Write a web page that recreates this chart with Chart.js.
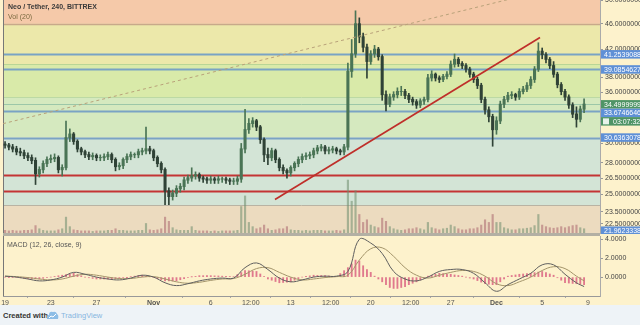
<!DOCTYPE html>
<html><head><meta charset="utf-8">
<script src="https://cdn.jsdelivr.net/npm/chart.js@4/dist/chart.umd.min.js"></script>
<style>
html,body{margin:0;padding:0;width:640px;height:325px;overflow:hidden;background:#fdf2cc;font-family:"Liberation Sans",Arial,sans-serif}
canvas{position:absolute;left:0}
#main{top:0}
#macd{top:234px}
#sep{position:absolute;left:3px;top:233px;width:597px;height:3px;background:#b3b0a4}
#footer{position:absolute;left:0;top:305px;width:640px;height:20px;background:#eef3f7}
.t{position:absolute;white-space:nowrap}
</style></head>
<body>
<canvas id="main" width="640" height="234"></canvas>
<canvas id="macd" width="640" height="71"></canvas>
<div id="sep"></div>
<div class="t" style="left:8px;top:3px;font-size:7px;font-weight:bold;color:#3a3a3a">Neo / Tether, 240, BITTREX</div>
<div class="t" style="left:8px;top:13px;font-size:7px;color:#7a6a40">Vol (20)</div>
<div class="t" style="left:7px;top:241px;font-size:7px;color:#555">MACD (12, 26, close, 9)</div>
<div id="footer">
  <div class="t" style="left:3px;top:6px;font-size:7.5px;font-weight:bold;color:#333">Created with</div>
  <svg style="position:absolute;left:46px;top:5px" width="13" height="10" viewBox="0 0 13 10"><path d="M1 9 Q0 5 3 5 Q3 1 7 2 Q10 1 11 4 Q13 5 12 9 Z" fill="#8dbde6"/><path d="M3 8 L5 6 L7 7 L10 4" stroke="#fff" stroke-width="1" fill="none"/></svg>
  <div class="t" style="left:61px;top:6px;font-size:7.5px;color:#86b6df">TradingView</div>
</div>
<script>
// ---- candles (8h aggregation), days since Oct 19 ----
const candleStep = 1/3;
const opens = [29.9,29.8,29.6,29.4,29.1,29.0,28.7,28.5,28.2,26.9, 27.3,27.9,28.3,28.4,28.5,27.3,27.5,30.6,31.0,30.2, 29.4,29.1,28.8,28.6,28.7,28.5,28.5,28.6,28.8,28.3, 27.6,27.7,28.3,28.6,28.8,28.8,29.1,29.2,29.4,29.2, 28.5,27.9,27.3,25.3,24.8,25.1,25.5,25.7,26.3,26.5, 26.7,26.8,26.5,26.4,26.3,26.4,26.3,26.4,26.4,26.3, 26.2,26.2,26.4,29.4,31.5,32.2,32.5,31.8,30.4,28.8, 28.5,29.2,28.3,27.5,27.2,27.0,27.5,27.9,28.3,28.6, 28.7,28.8,29.2,29.5,29.6,29.2,29.3,29.4,29.2,29.1, 29.6,38.8,41.3,46.0,43.9,42.3,40.2,41.3,42.0,40.9, 35.7,34.5,35.4,35.7,36.1,36.1,35.6,35.1,34.8,34.4, 34.9,35.1,37.9,38.4,37.9,37.7,38.1,38.4,39.8,40.5, 39.9,39.6,39.1,38.4,37.7,36.9,35.1,33.8,33.0,31.5, 32.5,34.5,35.1,35.6,35.7,35.4,36.1,36.4,36.9,37.7, 39.1,41.7,41.2,40.5,39.6,38.4,37.0,36.1,35.4,34.4, 33.3,32.7,33.9];
const closes = [29.8,29.6,29.4,29.1,29.0,28.7,28.5,28.2,26.9,27.3, 27.9,28.3,28.4,28.5,27.3,27.5,30.6,31.0,30.2,29.4, 29.1,28.8,28.6,28.7,28.5,28.5,28.6,28.8,28.3,27.6, 27.7,28.3,28.6,28.8,28.8,29.1,29.2,29.4,29.2,28.5, 27.9,27.3,25.3,24.8,25.1,25.5,25.7,26.3,26.5,26.7, 26.8,26.5,26.4,26.3,26.4,26.3,26.4,26.4,26.3,26.2, 26.2,26.4,29.4,31.5,32.2,32.5,31.8,30.4,28.8,28.5, 29.2,28.3,27.5,27.2,27.0,27.5,27.9,28.3,28.6,28.7, 28.8,29.2,29.5,29.6,29.2,29.3,29.4,29.2,29.1,29.6, 38.8,41.3,46.0,43.9,42.3,40.2,41.3,42.0,40.9,35.7, 34.5,35.4,35.7,36.1,36.1,35.6,35.1,34.8,34.4,34.9, 35.1,37.9,38.4,37.9,37.7,38.1,38.4,39.8,40.5,39.9, 39.6,39.1,38.4,37.7,36.9,35.1,33.8,33.0,31.5,32.5, 34.5,35.1,35.6,35.7,35.4,36.1,36.4,36.9,37.7,39.1, 41.7,41.2,40.5,39.6,38.4,37.0,36.1,35.4,34.4,33.3, 32.7,33.9,34.5];
const highs = [30.2,30.0,29.9,29.7,29.5,29.3,29.0,28.8,28.5,27.6, 28.2,28.6,28.8,28.9,28.7,27.8,32.5,31.6,31.2,30.4, 29.6,29.3,29.1,29.0,28.9,28.8,28.9,29.1,29.0,28.5, 28.0,28.5,28.9,29.1,29.0,29.4,29.5,31.8,29.7,29.4, 28.7,28.1,27.5,25.6,25.4,25.8,26.0,26.6,26.8,27.5, 27.1,27.0,26.7,26.6,26.7,26.6,26.7,26.6,26.6,26.5, 26.5,26.7,30.0,33.9,32.8,32.9,32.7,32.0,30.6,29.5, 29.5,29.4,28.5,27.8,27.4,27.7,28.1,28.6,28.9,29.0, 29.1,29.5,29.8,29.9,29.8,29.6,29.7,29.6,29.4,29.9, 40.0,43.5,48.2,47.0,44.5,42.8,41.8,42.6,42.3,41.2, 36.2,35.8,36.1,36.6,36.8,36.4,35.9,35.4,35.1,35.2, 35.4,38.4,38.9,38.6,38.2,38.4,38.8,40.3,41.3,40.8, 40.2,39.9,39.4,38.7,38.0,37.2,35.4,34.2,33.3,33.0, 34.9,35.5,36.0,36.1,35.9,36.5,36.8,37.3,38.1,39.5, 43.0,42.2,41.5,40.8,40.2,38.7,37.3,36.4,35.7,34.7, 34.2,34.3,35.2];
const lows = [29.5,29.3,29.1,28.8,28.7,28.4,28.2,27.9,25.9,26.6, 27.0,27.6,28.0,28.1,27.0,26.7,27.3,30.2,29.9,29.1, 28.8,28.5,28.3,28.3,28.2,28.2,28.2,28.3,28.0,27.2, 27.3,27.4,28.0,28.3,28.5,28.5,28.8,28.9,28.9,28.2, 27.6,27.0,24.1,24.1,24.5,24.8,25.2,25.4,26.0,26.2, 26.4,26.2,26.1,26.0,26.0,26.0,26.0,26.1,26.0,25.9, 25.9,25.9,26.1,29.0,31.1,31.8,31.4,30.0,28.1,27.8, 28.2,28.0,27.2,26.9,26.5,26.7,27.2,27.6,28.0,28.3, 28.4,28.5,28.9,29.2,28.9,28.9,29.0,28.9,28.8,28.8, 29.3,38.0,40.8,43.0,41.6,37.9,39.8,40.8,40.4,35.0, 33.7,34.2,35.0,35.3,35.6,35.2,34.7,34.4,34.0,34.1, 34.5,34.8,37.5,37.5,37.3,37.4,37.8,38.1,39.4,39.5, 39.2,38.7,38.0,37.3,36.5,34.7,33.3,32.4,29.7,31.0, 32.2,34.1,34.8,35.2,35.0,35.1,35.8,36.1,36.5,37.3, 38.8,40.6,40.0,39.2,38.0,36.6,35.7,35.0,34.0,32.9, 31.8,32.4,33.5];
const volumes = [5,4,5,4,4,5,5,6,14,8, 5,4,4,4,6,8,30,12,6,5, 4,4,4,3,4,4,4,5,5,8, 5,5,4,4,4,5,5,18,6,5, 6,8,30,22,10,6,5,5,5,12, 5,4,4,4,3,4,3,4,4,4, 4,5,50,70,20,12,8,10,15,8, 5,6,8,8,12,6,5,5,4,5, 4,5,5,5,4,4,4,5,4,6, 100,60,80,35,20,25,15,12,10,28, 22,12,8,6,5,6,8,8,10,8, 6,20,10,8,6,8,9,15,12,8, 6,6,8,8,10,15,25,20,35,20, 20,10,8,6,6,8,8,9,10,14, 35,15,12,10,9,10,12,10,12,14, 15,10,8];

// ---- MACD ----
const macdDays = [0,1,2,3,4,5,6,7,8,9,10,11,12,13,14,15,16,17,18,19,20,21,22,23,24,25,26,27,28,29,30,31,32,33,34,35,36,37,38,39,40,41,42,43,44,45,46,47,48,49,50,50.67];
const macdLine = [0.1,0.0,-0.2,-0.4,-0.3,0.0,0.5,0.3,0.0,-0.2, -0.3,-0.1,0.2,0.0,-0.6,-0.9,-0.7,-0.4,-0.2,-0.1, -0.1,1.0,1.5,0.8,-0.1,-0.5,-0.3,0.0,0.1,0.1, 0.6,4.0,3.6,2.5,0.6,-0.2,-0.4,0.0,0.6,0.8, 0.8,0.4,-0.6,-1.5,-0.8,-0.2,0.4,1.3,1.3,0.3, -0.6,-1.0];
const signalLine = [0.1,0.05,-0.05,-0.2,-0.3,-0.2,0.1,0.3,0.2,0.0, -0.15,-0.15,0.0,0.05,-0.2,-0.5,-0.65,-0.55,-0.35,-0.2, -0.15,0.3,0.9,1.0,0.5,0.0,-0.3,-0.2,-0.05,0.05, 0.2,1.8,3.0,3.1,2.2,1.0,0.2,-0.1,0.2,0.5, 0.7,0.6,0.1,-0.7,-0.9,-0.5,0.0,0.7,1.1,0.9, 0.1,-0.4];
const histogram = [0,-0.02,-0.04,-0.05,-0.08,-0.12,-0.15,-0.17,-0.19,-0.2,-0.13,-0.06,0,0.07,0.14,0.2,0.27,0.34,0.4,0.27,0.13,0,-0.07,-0.14,-0.2,-0.2,-0.2,-0.2,-0.18,-0.17,
 -0.15,-0.08,-0.02,0.05,0.1,0.15,0.2,0.12,0.03,-0.05,-0.17,-0.28,-0.4,-0.4,-0.4,-0.4,-0.28,-0.17,-0.05,0.02,0.08,0.15,0.15,0.15,0.15,0.13,0.12,0.1,0.08,0.07,
 0.05,0.27,0.48,0.7,0.67,0.63,0.6,0.33,0.07,-0.2,-0.33,-0.47,-0.6,-0.57,-0.53,-0.5,-0.33,-0.17,0,0.07,0.13,0.2,0.18,0.17,0.15,0.12,0.08,0.05,0.37,0.68,
 1.0,1.4,1.8,1.7,1.2,0.8,0.5,0.1,-0.2,-0.5,-0.8,-1.1,-1.2,-1.2,-1.1,-1.0,-0.8,-0.65,-0.5,-0.3,-0.1,0.1,0.2,0.3,0.4,0.37,0.33,0.3,0.23,0.17,
 0.1,0.0,-0.1,-0.2,-0.37,-0.53,-0.7,-0.75,-0.8,-0.8,-0.5,-0.2,0.1,0.17,0.23,0.3,0.33,0.37,0.4,0.47,0.53,0.6,0.47,0.33,0.2,-0.07,-0.33,-0.6,-0.63,-0.67,
 -0.7,-0.75,-0.8];

// ---- axes ----
const xTickDays = [0,4,8,13,18,21.5,25,28.5,32,35.5,39,43,47,51];
const xTickLabels = ['19','23','27','Nov','6','12:00','13','12:00','20','12:00','27','Dec','5','9'];
const priceTicks = [50,46,42,38,36,30,28,26.5,25,23.5,22.5];
const macdTicks = [0,2,4];

// ---- drawings ----
const zoneEdges = [50.1,46.0,39.8,35.4,30.63630788,24.04,21.78];
const zoneColors = ['#f5c9a9','#ece8aa','#d9eaa9','#d5e9bf','#d3e4d6','#ecdbbf'];
const levelPrices = [46.0,41.2539088,39.8,39.08546277,35.4,34.49999998,33.67466461,30.63630788,26.76,25.27,24.04];
const levelColors = ['#c8a98a','#7aa3c4','#b9d596','#7aa3c4','#bcd9a4','#9cc7a8','#7aa3c4','#7aa3c4','#c43434','#c43434','#b9b3a3'];
const levelWidths = [1.5,2,1,2,1,1,2,2,2,2,1];
const trendDays = [23.62,46.81];
const trendPrices = [24.56,43.8];
const dashDays = [-0.17,52.06];
const dashPrices = [32.2,54.4];
const tagPrices = [41.2539088,39.08546277,34.49999998,33.67466461,30.63630788,21.96];
const tagTexts = ['41.25390880','39.08546277','34.49999998','33.67466461','30.63630788','21.96233380'];
const tagKinds = ['b','b','g','b','b','b'];
const countdown = '03:07:32';

const xMin = -0.18, xMax = 52.06;
const days = opens.map((_, i) => i * candleStep);
const up = closes.map((c, i) => c >= opens[i]);
const UPC = '#4a7455', DNC = '#2f4236';

const bandPlugin = {
  id: 'bands',
  beforeDraw(chart) {
    const {ctx, chartArea: a, scales: {y}} = chart;
    ctx.save();
    for (let k = 0; k < zoneColors.length; k++) {
      const t = y.getPixelForValue(zoneEdges[k]), b = y.getPixelForValue(zoneEdges[k + 1]);
      ctx.fillStyle = zoneColors[k];
      ctx.fillRect(a.left, t, a.right - a.left, b - t);
    }
    for (let k = 0; k < levelPrices.length; k++) {
      const py = Math.round(y.getPixelForValue(levelPrices[k])) + 0.5;
      ctx.strokeStyle = levelColors[k]; ctx.lineWidth = levelWidths[k];
      ctx.beginPath(); ctx.moveTo(a.left, py); ctx.lineTo(a.right, py); ctx.stroke();
    }
    ctx.strokeStyle = '#777'; ctx.lineWidth = 1;
    ctx.beginPath(); ctx.moveTo(a.left + 0.5, a.top); ctx.lineTo(a.left + 0.5, a.bottom); ctx.stroke();
    ctx.restore();
  }
};
const tagPlugin = {
  id: 'tags',
  afterDraw(chart) {
    const {ctx, chartArea: a, scales: {y}} = chart;
    const items = [];
    tagPrices.forEach((p, k) => {
      items.push({y: y.getPixelForValue(p), text: tagTexts[k], kind: tagKinds[k]});
      if (tagKinds[k] === 'g') items.push({y: y.getPixelForValue(p) + 8, text: countdown, kind: 'g', cd: true});
    });
    items.sort((m, n) => m.y - n.y);
    let last = -100;
    const h = 8.5;
    ctx.save();
    ctx.font = '7px "Liberation Sans", Arial, sans-serif';
    ctx.textBaseline = 'middle';
    items.forEach(it => {
      let cy = Math.max(it.y, last + h);
      last = cy;
      ctx.fillStyle = it.kind === 'g' ? '#4f9466' : '#5f90d6';
      ctx.fillRect(a.right + 1, cy - h / 2, 40, h);
      if (it.cd) { ctx.fillStyle = '#e8f2ea'; ctx.fillRect(a.right + 3, cy - 3, 6, 6); }
      ctx.fillStyle = '#fff';
      ctx.fillText(it.text, a.right + (it.cd ? 13 : 4), cy + 0.5);
    });
    ctx.restore();
  }
};

const tickFont = {family: '"Liberation Sans", Arial, sans-serif', size: 7};

new Chart(document.getElementById('main'), {
  type: 'bar',
  data: {
    datasets: [
      {type: 'line', data: dashDays.map((d, i) => ({x: d, y: dashPrices[i]})), borderColor: '#b9a27a', borderWidth: 1, borderDash: [3, 3], pointRadius: 0, order: 1},
      {type: 'line', data: trendDays.map((d, i) => ({x: d, y: trendPrices[i]})), borderColor: '#bf2f2a', borderWidth: 1.7, pointRadius: 0, order: 0},
      {data: volumes.map((v, i) => ({x: days[i], y: v})), yAxisID: 'yv', grouped: false, barThickness: 1.5, maxBarThickness: 1.5,
        backgroundColor: up.map(u => u ? 'rgba(110,140,110,0.55)' : 'rgba(170,100,110,0.55)'), order: 5},
      {data: lows.map((l, i) => ({x: days[i], y: [l, highs[i]]})), grouped: false, barThickness: 1, maxBarThickness: 1,
        backgroundColor: up.map(u => u ? UPC : DNC), order: 3},
      {data: opens.map((o, i) => ({x: days[i], y: [Math.min(o, closes[i]), Math.max(o, closes[i]) + 0.04]})), grouped: false, barThickness: 2.4, maxBarThickness: 2.4,
        backgroundColor: up.map(u => u ? UPC : DNC), order: 2}
    ]
  },
  options: {
    responsive: false, animation: false,
    layout: {padding: {left: 3, top: 0, right: 0, bottom: 1}},
    plugins: {legend: {display: false}, tooltip: {enabled: false}},
    scales: {
      x: {type: 'linear', min: xMin, max: xMax, display: false, offset: false},
      y: {type: 'logarithmic', position: 'right', min: 21.78, max: 50.1,
        afterBuildTicks: s => { s.ticks = priceTicks.map(v => ({value: v})); },
        afterFit: s => { s.width = 40; s.paddingTop = 0; s.paddingBottom = 0; },
        ticks: {font: tickFont, color: '#444', padding: 2, autoSkip: false, callback: v => Number(v).toFixed(8)},
        grid: {drawOnChartArea: false, tickLength: 3, color: '#999'},
        border: {color: '#aaa'}},
      yv: {type: 'linear', display: false, min: 0, max: 440}
    }
  },
  plugins: [bandPlugin, tagPlugin]
});

const macdBg = {
  id: 'macdbg',
  beforeDraw(chart) {
    const {ctx, chartArea: a} = chart;
    ctx.save();
    ctx.strokeStyle = '#777'; ctx.lineWidth = 1;
    ctx.beginPath(); ctx.moveTo(a.left + 0.5, a.top); ctx.lineTo(a.left + 0.5, a.bottom); ctx.stroke();
    ctx.restore();
  }
};

new Chart(document.getElementById('macd'), {
  type: 'bar',
  data: {
    datasets: [
      {type: 'line', data: macdDays.map((d, i) => ({x: d, y: macdLine[i]})), borderColor: '#5e5e5e', borderWidth: 1, pointRadius: 0, tension: 0.4, order: 0},
      {type: 'line', data: macdDays.map((d, i) => ({x: d, y: signalLine[i]})), borderColor: '#a3946a', borderWidth: 1, pointRadius: 0, tension: 0.4, order: 1},
      {data: histogram.map((v, i) => ({x: days[i], y: v})), grouped: false, barThickness: 1.2, maxBarThickness: 1.2,
        backgroundColor: 'rgba(214,80,120,0.75)', order: 2}
    ]
  },
  options: {
    responsive: false, animation: false,
    layout: {padding: {left: 3, top: 2, right: 0, bottom: 0}},
    plugins: {legend: {display: false}, tooltip: {enabled: false}},
    scales: {
      x: {type: 'linear', min: xMin, max: xMax, offset: false,
        afterBuildTicks: s => { s.ticks = xTickDays.map(v => ({value: v})); },
        afterFit: s => { s.height = 9; s.paddingLeft = 0; s.paddingRight = 0; },
        ticks: {autoSkip: false, maxRotation: 0, padding: 1, color: '#555',
          font: c => ({family: tickFont.family, size: 7, weight: (xTickLabels[c.index] === 'Nov' || xTickLabels[c.index] === 'Dec') ? 'bold' : 'normal'}),
          callback: (v, i) => xTickLabels[i]},
        grid: {drawOnChartArea: false, tickLength: 2, color: '#aaa'},
        border: {color: '#999'}},
      y: {type: 'linear', position: 'right', min: -2.0, max: 4.35,
        afterBuildTicks: s => { s.ticks = macdTicks.map(v => ({value: v})); },
        afterFit: s => { s.width = 40; s.paddingTop = 0; s.paddingBottom = 0; },
        ticks: {font: tickFont, color: '#444', padding: 2, callback: v => Number(v).toFixed(4)},
        grid: {drawOnChartArea: false, tickLength: 3, color: '#999'},
        border: {color: '#aaa'}}
    }
  },
  plugins: [macdBg]
});
</script>
</body></html>
